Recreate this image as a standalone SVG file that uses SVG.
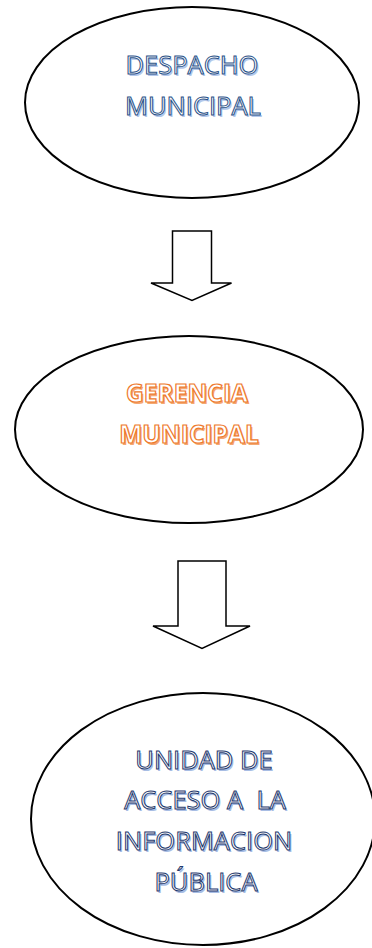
<svg xmlns="http://www.w3.org/2000/svg" width="372" height="948" viewBox="0 0 372 948">
<style>
  .node { fill: #ffffff; stroke: #000000; stroke-width: 2; }
  .arrow { fill: #ffffff; stroke: #000000; stroke-width: 1.5; stroke-linejoin: miter; }
  text { font-family: "Open Sans", "Noto Sans", sans-serif; font-size: 25.5px; text-anchor: middle; white-space: pre; }
  .blue { fill: #ffffff; stroke: #2a5288; stroke-width: 1; }
  .blueSh { fill: #b3c7ea; }
  .orange { fill: #ffffff; stroke: #ee7a2e; stroke-width: 1.2; font-weight: bold; font-size: 24.5px; }
  .orangeSh { fill: #f4a872; font-weight: bold; font-size: 24.5px; }
  .navy { fill: #ffffff; stroke: #1f3a6e; stroke-width: 1; }
  .navySh { fill: #a8bde4; }
</style>
<rect width="372" height="948" fill="#ffffff"/>
<g id="despacho">
  <ellipse class="node" cx="192" cy="102.5" rx="167" ry="95.5"/>
  <text class="blueSh" x="193.5" y="75.5">DESPACHO</text>
  <text class="blueSh" x="194.5" y="116.5">MUNICIPAL</text>
  <text class="blue" x="192" y="74">DESPACHO</text>
  <text class="blue" x="193" y="115">MUNICIPAL</text>
</g>
<g id="gerencia">
  <ellipse class="node" cx="189" cy="429.5" rx="174" ry="93.5"/>
  <text class="orangeSh" x="188.5" y="403.5">GERENCIA</text>
  <text class="orangeSh" x="190.5" y="444.5">MUNICIPAL</text>
  <text class="orange" x="187" y="402">GERENCIA</text>
  <text class="orange" x="189" y="443">MUNICIPAL</text>
</g>
<g id="unidad">
  <ellipse class="node" cx="203" cy="819" rx="172" ry="126"/>
  <text class="navySh" x="205.5" y="770.5">UNIDAD DE</text>
  <text class="navySh" x="206.5" y="810.5">ACCESO A  LA</text>
  <text class="navySh" x="205.5" y="851.5">INFORMACION</text>
  <text class="navySh" x="207.5" y="892.5">PÚBLICA</text>
  <text class="navy" x="204" y="769">UNIDAD DE</text>
  <text class="navy" x="205" y="809">ACCESO A  LA</text>
  <text class="navy" x="204" y="850">INFORMACION</text>
  <text class="navy" x="206" y="891">PÚBLICA</text>
</g>
<g id="connectors">
  <polygon class="arrow" points="172.5,231 211.5,231 211.5,283 231.5,283 192,300.5 151,283 172.5,283"/>
  <polygon class="arrow" points="178,561 226,561 226,626 250,626 202,648.5 153,626 178,626"/>
</g>
</svg>
